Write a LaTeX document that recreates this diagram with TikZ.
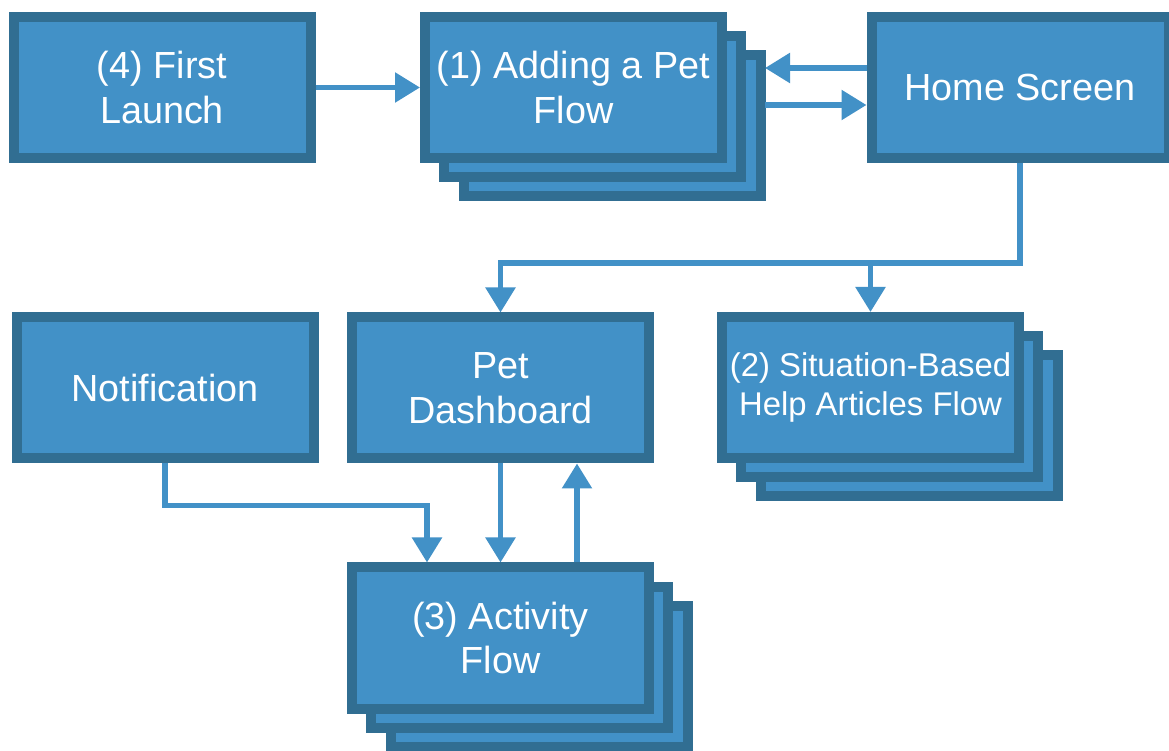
\documentclass[tikz,border=0pt]{standalone}
\usepackage{fontspec}
\setmainfont{Liberation Sans}
\usetikzlibrary{arrows.meta,shadows}
\definecolor{boxfill}{HTML}{4291C7}
\definecolor{boxline}{HTML}{316E92}

\begin{document}
\begin{tikzpicture}[%
  flowbox/.style={draw=boxline,fill=boxfill,line width=0.2cm,
    minimum width=5.94cm,minimum height=2.82cm,align=center,
    text=white,font=\fontsize{21.5}{25.5}\selectfont},
  stackbox/.style={flowbox,
    copy shadow={shadow xshift=0.77cm,shadow yshift=-0.77cm,
      draw=boxline,fill=boxfill},
    copy shadow={shadow xshift=0.385cm,shadow yshift=-0.385cm,
      draw=boxline,fill=boxfill}},
  link/.style={draw=boxfill,line width=0.11cm,
    -{Triangle[width=0.58cm,length=0.5cm]}}]
\useasboundingbox (0,0) rectangle (23.38,-15.02);

\node[flowbox] (launch) at (3.24,-1.75) {(4) First\\Launch};
\node[stackbox] (add) at (11.47,-1.75) {(1) Adding a Pet\\Flow};
\node[flowbox] (home) at (20.4,-1.75) {Home Screen};
\node[flowbox] (notif) at (3.3,-7.76) {Notification};
\node[flowbox] (dash) at (10.01,-7.76) {Pet\\Dashboard};
\node[stackbox,font=\fontsize{18.7}{22.7}\selectfont] (help) at (17.41,-7.75)
  {(2) Situation-Based\\Help Articles Flow};
\node[stackbox] (act) at (10.01,-12.76) {(3) Activity\\Flow};

\draw[link] (launch) -- (add);
\draw[link] ([yshift=0.39cm]home.west) -- ([yshift=0.39cm,xshift=0.76cm]add.east);
\draw[link] ([yshift=-0.35cm,xshift=0.76cm]add.east) -- ([yshift=-0.35cm]home.west);

\coordinate (split) at ([yshift=-2cm]home.south);
\draw[link] (home.south) -- (split) -| (dash.north);
\draw[link] (split -| help.north) -- (help.north);

\coordinate (bend) at ([yshift=-0.84cm]notif.south);
\draw[link] (notif.south) -- (bend) -| ([xshift=-1.47cm]act.north);
\draw[link] (dash.south) -- (act.north);
\draw[link] ([xshift=1.53cm]act.north) -- ([xshift=1.53cm]dash.south);
\end{tikzpicture}
\end{document}
